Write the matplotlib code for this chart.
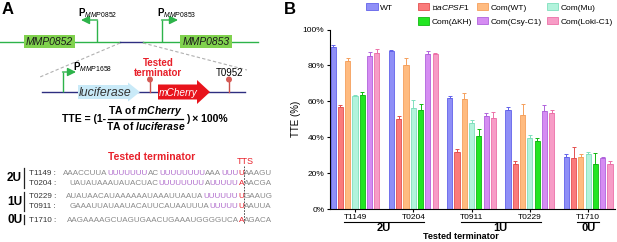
import numpy as np
import matplotlib
matplotlib.use("Agg")
import matplotlib.pyplot as plt
from matplotlib.patches import Rectangle, Circle, Polygon, Patch
from matplotlib.transforms import blended_transform_factory
from matplotlib.ticker import FuncFormatter

plt.rcParams.update({
    "font.family": ["Liberation Sans", "DejaVu Sans"],
    "mathtext.fontset": "custom",
    "mathtext.rm": "Liberation Sans",
    "mathtext.it": "Liberation Sans:italic",
    "mathtext.bf": "Liberation Sans:bold",
    "mathtext.bfit": "Liberation Sans:bold:italic",
})

# ---------------------------------------------------------------- data (B) ---
TERMINATORS = ["T1149", "T0204", "T0911", "T0229", "T1710"]
U_CLASSES = ["2U", "1U", "0U"]
U_MEMBERS = [(0, 1), (2, 3), (4, 4)]
STRAINS = ["WT", "∇$\\mathit{aCPSF1}$", "Com(WT)", "Com(Mu)",
           "Com(ΔKH)", "Com(Csy-C1)", "Com(Loki-C1)"]

wt = [90.5, 88.3, 62.0, 55.3, 28.9]
acpsf1 = [57.0, 50.0, 32.0, 25.0, 28.3]
com_wt = [82.7, 80.0, 61.4, 52.5, 28.9]
com_mu = [63.0, 56.0, 48.0, 39.5, 30.5]
com_dkh = [63.5, 55.0, 40.8, 38.0, 25.0]
com_csy = [85.5, 86.5, 51.8, 54.4, 28.6]
com_loki = [87.0, 86.3, 50.8, 53.4, 25.0]

wt_sd = [1.0, 0.5, 0.7, 1.7, 1.5]
acpsf1_sd = [0.8, 2.0, 1.2, 1.5, 6.0]
com_wt_sd = [1.3, 4.0, 3.3, 6.0, 1.6]
com_mu_sd = [0.5, 4.5, 1.8, 1.5, 1.5]
com_dkh_sd = [1.8, 3.5, 4.0, 1.3, 6.3]
com_csy_sd = [1.8, 1.5, 1.7, 3.5, 0.5]
com_loki_sd = [2.0, 0.5, 3.2, 2.0, 1.5]

MEANS = [wt, acpsf1, com_wt, com_mu, com_dkh, com_csy, com_loki]
SDS = [wt_sd, acpsf1_sd, com_wt_sd, com_mu_sd, com_dkh_sd, com_csy_sd, com_loki_sd]
FILL = ["#8f8ff7", "#fa7b7b", "#ffbb80", "#b2f3dc", "#22e622", "#d58cf2", "#f79cc6"]
EDGE = ["#6262ea", "#e45050", "#f5a05c", "#7fe0bd", "#12b812", "#b062dc", "#ec70a8"]

# ---------------------------------------------------------------- data (A) ---
SEQ_NAMES = ["T1149", "T0204", "T0229", "T0911", "T1710"]
SEQ_UP = [
    [("AAACCUUA", "n"), ("UUUUUUU", "u"), ("AC", "n"), ("UUUUUUUU", "u"),
     ("AAA", "n"), ("UUU", "u"), ("U", "t")],
    [("UAUAUAAAUAUACUAC", "n"), ("UUUUUUUU", "u"), ("A", "n"), ("UUUUU", "u"), ("A", "t")],
    [("AUAUAACAUAAAAAAUAAAUUAAUA", "n"), ("UUUUUU", "u"), ("U", "t")],
    [("GAAAUUAUAAUACAUUCAUAAUUUA", "n"), ("UUUUU", "u"), ("U", "t")],
    [("AAGAAAAGCUAGUGAACUGAAAUGGGGUCA", "n"), ("A", "t")],
]
SEQ_DOWN = ["AAAGU", "AACGA", "GAAUG", "AAUUA", "AGACA"]
SEQ_COL = {"n": "#8a8a8a", "u": "#b06ccc", "t": "#e8202a"}

GREEN, NAVY, RED = "#2db34a", "#2e2e80", "#e8202a"

fig = plt.figure(figsize=(6.17, 2.42), dpi=100)

# ============================================================ panel A ========
axA = fig.add_axes([0, 0, 310 / 617, 1])
axA.set_xlim(0, 310); axA.set_ylim(242, 0); axA.axis("off")


def promoter(ax, x, y0, y1, x_tip, label, lx, ly):
    ax.plot([x, x], [y0, y1], color=GREEN, lw=1.0, solid_capstyle="butt")
    ax.annotate("", xy=(x_tip, y1), xytext=(x - 0.5 * np.sign(x_tip - x), y1),
                arrowprops=dict(arrowstyle="-|>,head_length=0.5,head_width=0.25",
                                color=GREEN, lw=1.0, shrinkA=0, shrinkB=0))
    ax.text(lx, ly, r"$\mathbf{P}_{\mathit{%s}}$" % label, fontsize=7, ha="left", va="center")


def lollipop(ax, x, y):
    ax.plot([x, x], [y, y - 11], color="#c8504c", lw=1.0)
    ax.add_patch(Circle((x, y - 12.5), 3.0, fc="#d65a55", ec="none", zorder=4))


# genome line
axA.plot([0, 120], [42, 42], color=GREEN, lw=1.0)
axA.plot([120, 143], [42, 42], color=NAVY, lw=1.0)
axA.plot([143, 258], [42, 42], color=GREEN, lw=1.0)
for x0, w, name in [(24, 51, "MMP0852"), (180, 52, "MMP0853")]:
    axA.add_patch(Rectangle((x0, 35), w, 13, fc="#80d24e", ec="none", zorder=3))
    axA.text(x0 + w / 2, 41.8, name, fontsize=7.5, style="italic", ha="center", va="center",
             color="#1a1a1a", zorder=4)
promoter(axA, 97, 42, 20, 81, "MMP0852", 78, 13)
promoter(axA, 162, 42, 20, 178, "MMP0853", 157, 13)

# zoom dashes
axA.plot([120, 40], [43, 77], color="#b0b0b0", lw=0.8, ls=(0, (3, 2)))
axA.plot([143, 247], [43, 70], color="#b0b0b0", lw=0.8, ls=(0, (3, 2)))

# reporter construct
axA.plot([42, 245], [92, 92], color=NAVY, lw=1.0)
promoter(axA, 63, 92, 72, 76, "MMP1658", 73, 67)
axA.add_patch(Polygon([(78, 85), (128, 85), (128, 82.5), (140, 92), (128, 101.5),
                       (128, 99), (78, 99)], fc="#c9eaf8", ec="none", zorder=3))
axA.text(105, 92.5, "luciferase", fontsize=8.8, style="italic", ha="center", va="center",
         color="#333333", zorder=4)
axA.add_patch(Polygon([(158, 84.5), (197, 84.5), (197, 80), (210, 92), (197, 104),
                       (197, 99.5), (158, 99.5)], fc="#e8141c", ec="none", zorder=3))
axA.text(178, 92.5, "mCherry", fontsize=7.3, style="italic", ha="center", va="center",
         color="#ffffff", zorder=4)
lollipop(axA, 150, 92)
lollipop(axA, 229, 92)
axA.text(158, 68, "Tested\nterminator", fontsize=7, fontweight="bold", color=RED,
         ha="center", va="center", linespacing=0.95)
axA.text(230, 73, "T0952", fontsize=7, ha="center", va="center")

# TTE formula
axA.text(106, 119, "TTE = (1-", fontsize=7.5, fontweight="bold", ha="right", va="center")
axA.plot([108, 183], [119, 119], color="black", lw=0.9)
axA.text(145.5, 117.5, r"TA of $\mathbfit{mCherry}$", fontsize=7.5, fontweight="bold",
         ha="center", va="bottom")
axA.text(145.5, 120.5, r"TA of $\mathbfit{luciferase}$", fontsize=7.5, fontweight="bold",
         ha="center", va="top")
axA.text(186, 119, ") × 100%", fontsize=7.5, fontweight="bold", ha="left", va="center")

# sequences
axA.text(152, 157, "Tested terminator", fontsize=7.5, fontweight="bold", color=RED,
         ha="center", va="center")
TTS_X = 244
axA.text(TTS_X + 1, 162, "TTS", fontsize=6.5, color=RED, ha="center", va="center")
axA.plot([TTS_X, TTS_X], [166, 224], color="#333333", lw=0.6, ls=(0, (2, 1.5)))

SEQ_FS = 5.8
row_y = [175, 185, 198.5, 208, 221.5]
for name, up, down, y in zip(SEQ_NAMES, SEQ_UP, SEQ_DOWN, row_y):
    axA.text(29, y, name + " :", fontsize=5.8, color="#333333", ha="left", va="baseline")
    prev = axA.text(TTS_X, y, up[-1][0], fontsize=SEQ_FS, color=SEQ_COL[up[-1][1]],
                    ha="right", va="baseline")
    axA.annotate(down, xy=(1, 0), xycoords=prev, fontsize=SEQ_FS, color=SEQ_COL["n"],
                 ha="left", va="bottom")
    for seg, kind in reversed(up[:-1]):
        prev = axA.annotate(seg, xy=(0, 0), xycoords=prev, fontsize=SEQ_FS,
                            color=SEQ_COL[kind], ha="right", va="bottom")

for lab, y0, y1 in [("2U", 168, 187.5), ("1U", 191.5, 211), ("0U", 214.5, 224)]:
    axA.plot([23.5, 23.5], [y0, y1], color="#222222", lw=0.9)
    axA.text(7, (y0 + y1) / 2 + 0.5, lab, fontsize=8.5, fontweight="bold", ha="left", va="center")

fig.text(2 / 617, 1 - 2 / 242, "A", fontsize=12, fontweight="bold", ha="left", va="top")
fig.text(284 / 617, 1 - 2 / 242, "B", fontsize=12, fontweight="bold", ha="left", va="top")

# ============================================================ panel B ========
axB = fig.add_axes([330 / 617, (242 - 209) / 242, 285 / 617, 179.5 / 242])
x = np.arange(len(TERMINATORS))
slot, width = 0.125, 0.088
bars = []
for i, (m, s) in enumerate(zip(MEANS, SDS)):
    b = axB.bar(x + (i - 3) * slot, m, width, color=FILL[i], edgecolor=EDGE[i], lw=0.6,
                yerr=[np.zeros(len(s)), s],
                error_kw=dict(ecolor=EDGE[i], elinewidth=0.7, capsize=1.2, capthick=0.7),
                label=STRAINS[i])
    bars.append(b)

axB.set_xlim(-0.43, 4.46)
axB.set_ylim(0, 100)
axB.set_yticks([0, 20, 40, 60, 80, 100])
axB.yaxis.set_major_formatter(FuncFormatter(lambda v, _: f"{v:.0f}%"))
axB.set_xticks(x)
axB.set_xticklabels(TERMINATORS)
axB.tick_params(axis="both", labelsize=6, length=2.5, width=0.8, pad=1.5)
axB.tick_params(axis="x", length=2, pad=1.5)
for sp in ("top", "right"):
    axB.spines[sp].set_visible(False)
for sp in ("left", "bottom"):
    axB.spines[sp].set_linewidth(0.8)
axB.set_ylabel("TTE (%)", fontsize=7)
axB.yaxis.set_label_coords(-29 / 285, 0.5)

trans = blended_transform_factory(axB.transData, axB.transAxes)
for lab, (a, b) in zip(U_CLASSES, U_MEMBERS):
    axB.plot([a - 0.19, b + 0.19], [-0.072, -0.072], color="black", lw=0.8,
             transform=trans, clip_on=False)
    axB.text((a + b) / 2, -0.106, lab, fontsize=8, fontweight="bold", ha="center",
             va="center", transform=trans)
axB.text(0.46, -0.155, "Tested terminator", fontsize=6.5, fontweight="bold", ha="center",
         va="center", transform=axB.transAxes)

blank = Patch(fc="none", ec="none")
order = [0, None, 1, 4, 2, 5, 3, 6]
handles = [bars[i] if i is not None else blank for i in order]
labels = [STRAINS[i] if i is not None else " " * 14 for i in order]
fig.legend(handles, labels, ncol=4, loc="upper left",
           bbox_to_anchor=(366 / 617, 1 - 3 / 242), frameon=False, fontsize=6,
           handlelength=1.4, handleheight=1.0, handletextpad=0.25, columnspacing=0.58,
           labelspacing=0.65, borderpad=0, borderaxespad=0)

fig.savefig("out.png", dpi=100)
